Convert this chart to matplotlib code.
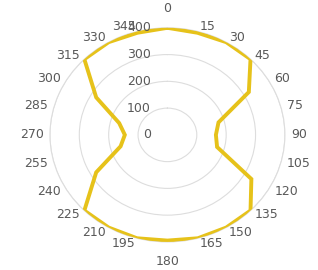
import numpy as np
import matplotlib
matplotlib.use("Agg")
import matplotlib.pyplot as plt

# angle categories (degrees) and radar values
angles = [0, 15, 30, 45, 60, 75, 90, 105, 120, 135, 150, 165,
          180, 195, 210, 225, 240, 255, 270, 285, 300, 315, 330, 345]
values = [400, 395, 400, 400, 320, 180, 165, 175, 330, 400, 400, 400,
          395, 400, 400, 400, 280, 165, 145, 170, 280, 400, 400, 395]
r_ticks = [0, 100, 200, 300, 400]

LINE = '#E6C21A'
GRID = '#DDDDDD'
TXT = '#595959'

fig = plt.figure(figsize=(3.18, 2.70), dpi=100)
ax = fig.add_axes([0.157, 0.104, 0.739, 0.793], projection='polar')
ax.set_aspect('auto')
ax.set_theta_zero_location('N')
ax.set_theta_direction(-1)

theta = np.deg2rad(angles + [angles[0]])
vals = values + [values[0]]
ax.plot(theta, vals, color=LINE, lw=2.8, solid_joinstyle='miter', zorder=3)

rmax = r_ticks[-1]
ax.set_ylim(0, rmax)
ax.set_yticks(r_ticks)
ax.set_yticklabels([])
ax.set_xticks(np.deg2rad(angles))
ax.set_xticklabels([])
ax.xaxis.grid(False)
ax.yaxis.grid(True, color=GRID, lw=0.8)
ax.spines['polar'].set_color(GRID)
ax.spines['polar'].set_linewidth(0.8)
ax.tick_params(length=0)

# category labels around the outside (excel-like alignment)
for a in angles:
    s = np.sin(np.deg2rad(a))
    if a == 0:
        ax.text(0, rmax * 1.12, str(a), ha='center', va='bottom',
                fontsize=9, color=TXT, clip_on=False)
    elif a == 180:
        ax.text(np.pi, rmax * 1.12, str(a), ha='center', va='top',
                fontsize=9, color=TXT, clip_on=False)
    else:
        ax.text(np.deg2rad(a), rmax * 1.05, str(a),
                ha='left' if s > 0 else 'right', va='center',
                fontsize=9, color=TXT, clip_on=False)

# radial value labels, left of the vertical axis
for r in r_ticks:
    ax.annotate(str(r), xy=(0, r), xytext=(-12, 0), textcoords='offset points',
                ha='right', va='center', fontsize=9, color=TXT, annotation_clip=False)

fig.savefig('out.png', dpi=100, facecolor='white')
